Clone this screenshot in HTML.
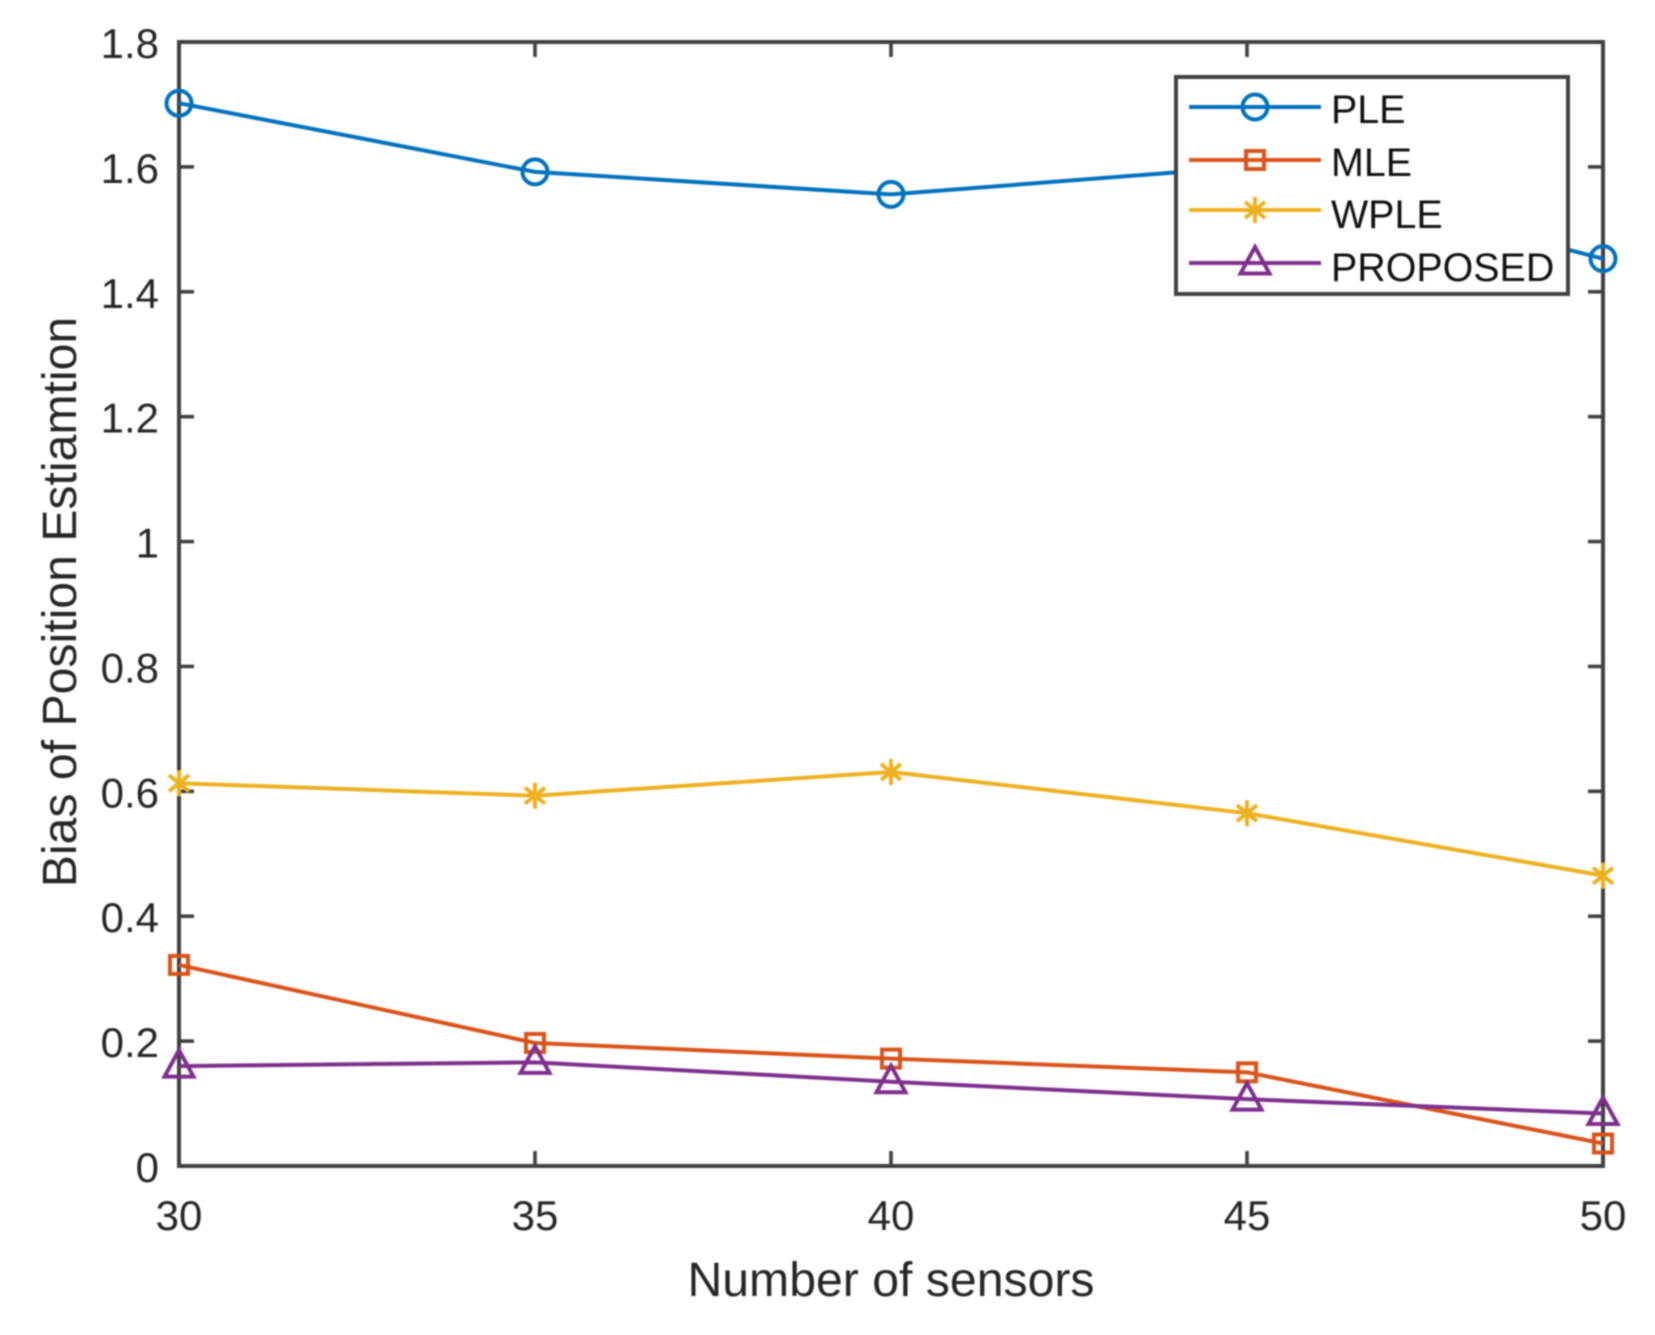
<!DOCTYPE html>
<html lang="en">
<head>
<meta charset="utf-8">
<title>Bias of Position Estimation vs Number of sensors</title>
<style>
html,body{margin:0;padding:0;background:#fff;width:1655px;height:1335px;overflow:hidden}
svg{display:block;filter:blur(0.7px)}
text{font-family:"Liberation Sans",Arial,sans-serif}
</style>
</head>
<body>
<svg id="chart" xmlns="http://www.w3.org/2000/svg" width="1655" height="1335" viewBox="0 0 1655 1335">
  <rect x="0" y="0" width="1655" height="1335" fill="#fff"/>
  <g id="ticks"></g>
  <rect x="179" y="42" width="1424" height="1124" fill="none" stroke="#404040" stroke-width="4"/>
  <g id="series"></g>
  <text x="891" y="1296" font-size="48.2" fill="#262626" text-anchor="middle">Number of sensors</text>
  <text transform="translate(76,602) rotate(-90)" font-size="48.2" fill="#262626" text-anchor="middle">Bias of Position Estiamtion</text>
  <g id="legend">
    <rect x="1176" y="77" width="392" height="217" fill="#fff" stroke="#404040" stroke-width="4"/>
  </g>
</svg>
<script>
const categories = [30, 35, 40, 45, 50];
const xTickLabels = ['30', '35', '40', '45', '50'];
const yTickValues = [0, 0.2, 0.4, 0.6, 0.8, 1, 1.2, 1.4, 1.6, 1.8];
const yTickLabels = ['0', '0.2', '0.4', '0.6', '0.8', '1', '1.2', '1.4', '1.6', '1.8'];
const seriesNames = ['PLE', 'MLE', 'WPLE', 'PROPOSED'];
const pleValues = [1.702, 1.592, 1.556, 1.600, 1.453];
const mleValues = [0.322, 0.197, 0.172, 0.150, 0.036];
const wpleValues = [0.613, 0.593, 0.631, 0.565, 0.465];
const proposedValues = [0.160, 0.166, 0.135, 0.107, 0.084];

const NS = 'http://www.w3.org/2000/svg';
const plot = {left: 179, right: 1603, top: 42, bottom: 1166};
const xDomain = [30, 50];
const yDomain = [0, 1.8];
const colors = ['#0072BD', '#D95319', '#EDB120', '#7E2F8E'];
const allValues = [pleValues, mleValues, wpleValues, proposedValues];
const markerKinds = ['circle', 'square', 'star', 'triangle'];

function xScale(v) {
  return plot.left + (v - xDomain[0]) / (xDomain[1] - xDomain[0]) * (plot.right - plot.left);
}
function yScale(v) {
  return plot.bottom - (v - yDomain[0]) / (yDomain[1] - yDomain[0]) * (plot.bottom - plot.top);
}
function make(tag, attrs, parent) {
  const node = document.createElementNS(NS, tag);
  for (const key in attrs) node.setAttribute(key, attrs[key]);
  parent.appendChild(node);
  return node;
}
function drawMarker(kind, cx, cy, color, parent) {
  const g = make('g', {fill: 'none', stroke: color, 'stroke-width': 4}, parent);
  if (kind === 'circle') {
    make('circle', {cx: cx, cy: cy, r: 12.5}, g);
  } else if (kind === 'square') {
    make('rect', {x: cx - 9, y: cy - 9, width: 18, height: 18}, g);
  } else if (kind === 'star') {
    const arms = 'M' + cx + ' ' + (cy - 13) + 'V' + (cy + 13) +
      'M' + (cx - 10) + ' ' + (cy - 8) + 'L' + (cx + 10) + ' ' + (cy + 8) +
      'M' + (cx - 10) + ' ' + (cy + 8) + 'L' + (cx + 10) + ' ' + (cy - 8);
    make('path', {d: arms}, g);
  } else {
    const tri = 'M' + cx + ' ' + (cy - 16) + 'L' + (cx + 14.5) + ' ' + (cy + 10.5) + 'L' + (cx - 14.5) + ' ' + (cy + 10.5) + 'Z';
    make('path', {d: tri}, g);
  }
  return g;
}

const tickLayer = document.getElementById('ticks');
const seriesLayer = document.getElementById('series');
const legendLayer = document.getElementById('legend');

categories.forEach(function (value, i) {
  const x = xScale(value);
  const bottomTick = make('line', {x1: x, x2: x, y1: plot.bottom, y2: plot.bottom - 15, stroke: '#404040', 'stroke-width': 3.6}, tickLayer);
  
  
  const topTick = make('line', {x1: x, x2: x, y1: plot.top, y2: plot.top + 15, stroke: '#404040', 'stroke-width': 3.6}, tickLayer);
  
  
  const label = make('text', {x: x, y: 1230, 'font-size': 42, fill: '#262626', 'text-anchor': 'middle'}, tickLayer);
  label.textContent = xTickLabels[i];
  
  
});

yTickValues.forEach(function (value, i) {
  const y = yScale(value);
  const leftTick = make('line', {x1: plot.left, x2: plot.left + 15, y1: y, y2: y, stroke: '#404040', 'stroke-width': 3.6}, tickLayer);
  
  
  const rightTick = make('line', {x1: plot.right, x2: plot.right - 15, y1: y, y2: y, stroke: '#404040', 'stroke-width': 3.6}, tickLayer);
  
  
  const label = make('text', {x: 159, y: y + 16, 'font-size': 42, fill: '#262626', 'text-anchor': 'end'}, tickLayer);
  label.textContent = yTickLabels[i];
  
  
});

allValues.forEach(function (values, s) {
  const group = make('g', {}, seriesLayer);
  
  
  const points = values.map(function (v, i) { return xScale(categories[i]) + ',' + yScale(v); }).join(' ');
  const line = make('polyline', {points: points, fill: 'none', stroke: colors[s], 'stroke-width': 4, 'stroke-linejoin': 'round'}, group);
  
  
  values.forEach(function (v, i) {
    const marker = drawMarker(markerKinds[s], xScale(categories[i]), yScale(v), colors[s], group);
    
    
  });
});

const legendLineY = [107, 160, 210, 263];
const legendTextY = [123, 176, 228, 281];
seriesNames.forEach(function (name, s) {
  const entry = make('g', {}, legendLayer);
  
  
  const sample = make('line', {x1: 1189, x2: 1321, y1: legendLineY[s], y2: legendLineY[s], stroke: colors[s], 'stroke-width': 4}, entry);
  
  
  const marker = drawMarker(markerKinds[s], 1255, legendLineY[s], colors[s], entry);
  
  
  const text = make('text', {x: 1331, y: legendTextY[s], 'font-size': 39.4, fill: '#111'}, entry);
  text.textContent = name;
  
  
});
</script>
</body>
</html>
